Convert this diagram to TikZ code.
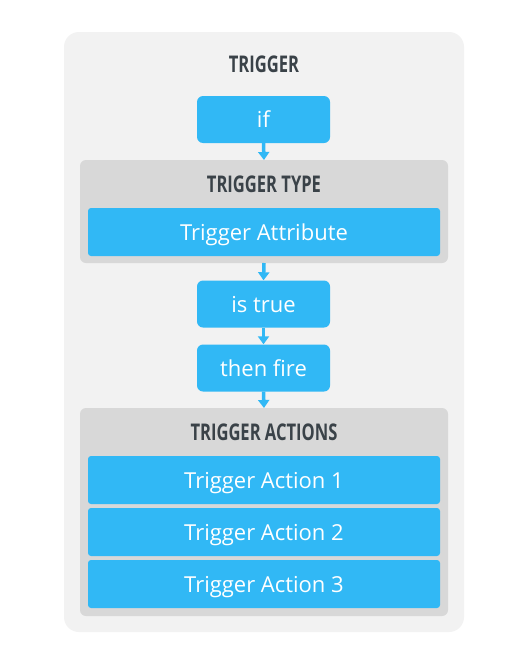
\documentclass[tikz,border=0pt]{standalone}
\usepackage{fontspec}
\setmainfont{Open Sans}
\newfontfamily\titlefont{Open Sans}[UprightFont={* Bold}]
\usetikzlibrary{arrows.meta,positioning}
\definecolor{bluebox}{HTML}{31B8F5}
\definecolor{outerbg}{HTML}{F2F2F2}
\definecolor{midbg}{HTML}{D8D8D8}
\definecolor{titlecol}{HTML}{3A4248}
\tikzset{
  x=1pt,y=-1pt,
  outerbox/.style={fill=outerbg,rounded corners=15pt},
  groupbox/.style={fill=midbg,rounded corners=6pt},
  stepbox/.style={fill=bluebox,rounded corners=6pt,text=white,minimum width=133pt,minimum height=47pt,inner sep=0pt,text depth=0pt,font=\fontsize{22}{26}\selectfont},
  itembox/.style={fill=bluebox,rounded corners=3pt,text=white,minimum width=352pt,minimum height=48pt,inner sep=0pt,text depth=0pt,font=\fontsize{22}{26}\selectfont},
  titletext/.style={text=titlecol,inner sep=0pt,text depth=0pt,font=\titlefont\fontsize{23}{26}\selectfont},
  flow/.style={draw=bluebox,line width=3.5pt,-{Triangle[width=11pt,length=8pt]}},
}
\newcommand{\cond}[1]{\scalebox{0.72}[1]{#1}}
\begin{document}
\begin{tikzpicture}
\useasboundingbox (0,0) rectangle (528,664);
\fill[white] (0,0) rectangle (528,664);
\path[outerbox] (64,32) rectangle (464,632);
\node[titletext] (ttrig) at (264,64.5) {\cond{TRIGGER}};
\node[stepbox] (if) at (263.5,119.5) {if};
\path[groupbox] (80,160) rectangle (448,263);
\coordinate (typetop) at (264,160);
\coordinate (typebot) at (264,263);
\node[titletext] (ttype) at (264,184.5) {\cond{TRIGGER TYPE}};
\node[itembox] (attr) at (264,232) {Trigger Attribute};
\node[stepbox] (true) at (263.5,304) {is true};
\node[stepbox] (fire) at (263.5,368) {then fire};
\path[groupbox] (80,408) rectangle (448,616);
\coordinate (acttop) at (264,408);
\node[titletext] (tact) at (264,432.5) {\cond{TRIGGER ACTIONS}};
\node[itembox] (a1) at (264,480) {Trigger Action 1};
\node[itembox] (a2) at (264,532) {Trigger Action 2};
\node[itembox] (a3) at (264,584) {Trigger Action 3};
\draw[flow] (if.south) -- (typetop);
\draw[flow] (typebot) -- (true.north);
\draw[flow] (true.south) -- (fire.north);
\draw[flow] (fire.south) -- (acttop);
\end{tikzpicture}
\end{document}
